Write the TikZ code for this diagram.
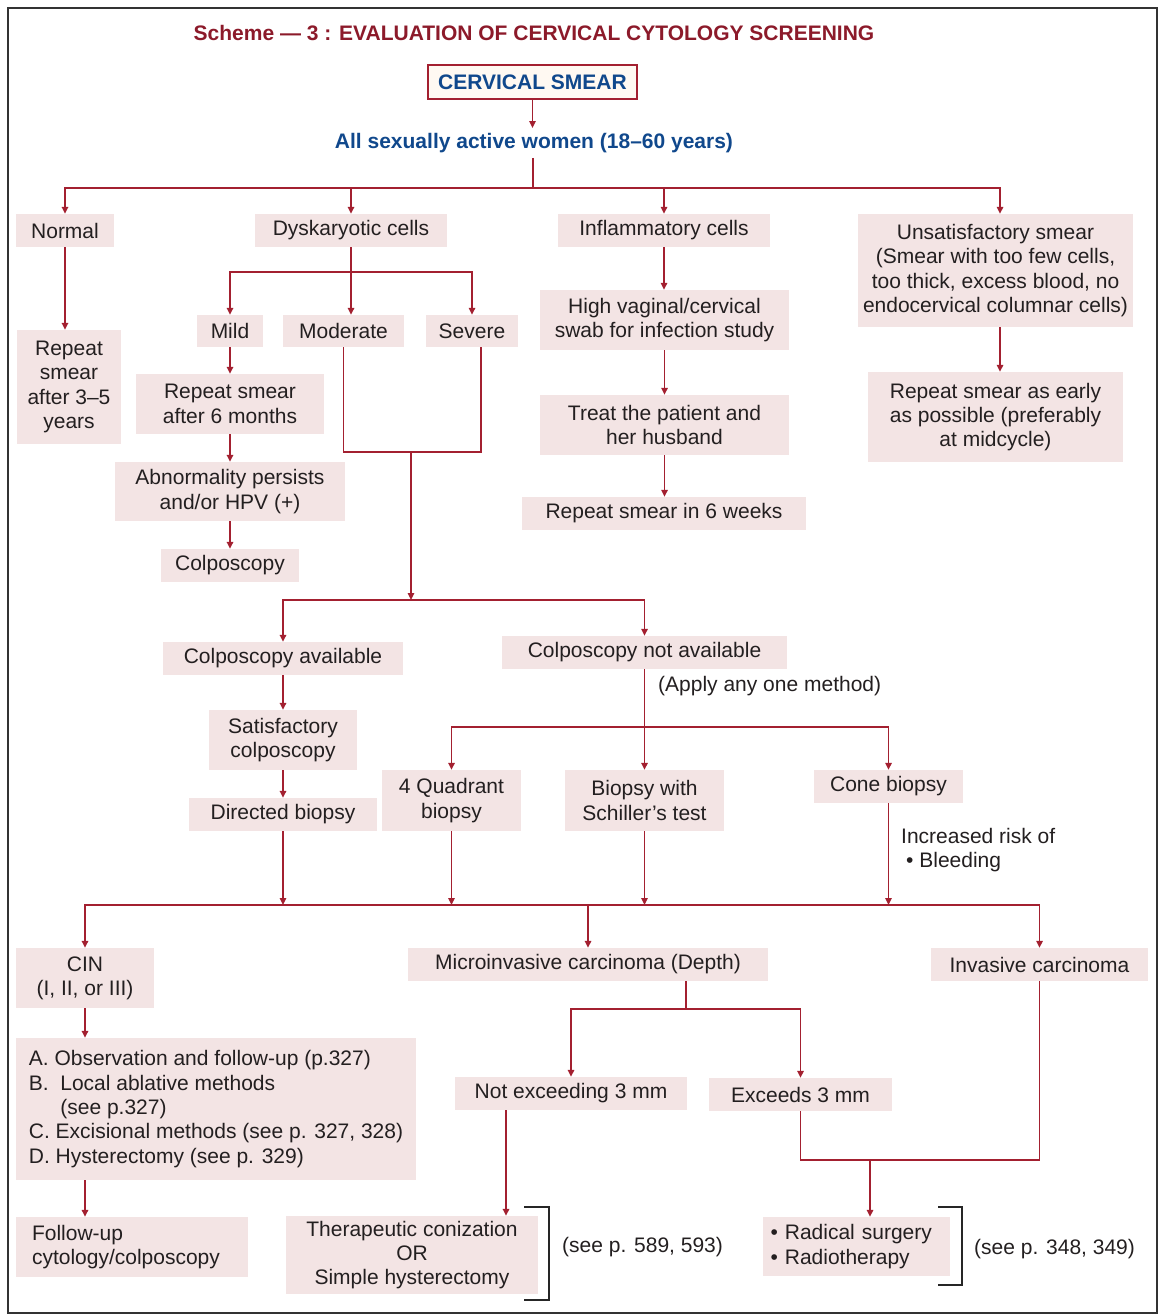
\documentclass[tikz,border=0pt]{standalone}
\usepackage{fontspec}
\setmainfont{Liberation Sans}
\usetikzlibrary{arrows.meta}
\definecolor{lnc}{RGB}{163,32,48}
\definecolor{titlec}{RGB}{140,26,42}
\definecolor{bluec}{RGB}{16,72,140}
\definecolor{boxfill}{RGB}{243,228,228}
\definecolor{cream}{RGB}{255,249,242}
\definecolor{txt}{RGB}{35,31,32}
\begin{document}
\begin{tikzpicture}[x=1pt,y=-1pt,
  bx/.style={fill=boxfill, inner sep=0pt, align=center, text=txt, font=\fontsize{21}{24.3}\selectfont},
  plain/.style={inner sep=0pt, text=txt, font=\fontsize{21}{24.3}\selectfont},
  ln/.style={draw=lnc, line width=1.5pt},
  arr/.style={draw=lnc, line width=1.5pt, -{Triangle[length=7pt,width=6.5pt]}},
  brk/.style={draw=black!85, line width=1.2pt}]
\useasboundingbox (0,0) rectangle (1160,1315);
\draw[line width=2pt, draw=black!80] (8,8) rectangle (1157,1313);

% title
\node[inner sep=0pt, text=titlec, font=\bfseries\fontsize{21}{24}\selectfont] (title) at (534,33) {Scheme — 3 : EVALUATION OF CERVICAL CYTOLOGY SCREENING};
\node[draw=lnc, line width=1.5pt, fill=cream, text=bluec, font=\bfseries\fontsize{21}{24}\selectfont, minimum width=209pt, minimum height=34pt, inner sep=0pt] (smear) at (532.5,82) {CERVICAL SMEAR};
\node[inner xsep=0pt, inner ysep=5pt, text=bluec, font=\bfseries\fontsize{21}{24}\selectfont] (women) at (534,143) {All sexually active women (18–60 years)};

% first row
\node[bx, minimum width=98pt, minimum height=33pt] (normal) at (65,230.5) {Normal};
\node[bx, minimum width=192pt, minimum height=33pt] (dysk) at (351,230.5) {Dyskaryotic cells};
\node[bx, minimum width=212pt, minimum height=33pt] (infl) at (664,230.5) {Inflammatory cells};
\node[bx, minimum width=275pt, minimum height=113pt] (unsat) at (995.5,270.5) {Unsatisfactory smear\\(Smear with too few cells,\\too thick, excess blood, no\\endocervical columnar cells)};

% normal branch
\node[bx, minimum width=104pt, minimum height=114pt] (rep3) at (69,387) {Repeat\\smear\\after 3–5\\years};

% dyskaryotic branch
\node[bx, minimum width=66pt, minimum height=32pt] (mild) at (230,331) {Mild};
\node[bx, minimum width=121pt, minimum height=32pt] (moderate) at (343.5,331) {Moderate};
\node[bx, minimum width=92pt, minimum height=32pt] (severe) at (472,331) {Severe};
\node[bx, minimum width=188pt, minimum height=60pt] (rep6) at (230,404) {Repeat smear\\after 6 months};
\node[bx, minimum width=230pt, minimum height=59pt] (abn) at (230,491.5) {Abnormality persists\\and/or HPV (+)};
\node[bx, minimum width=138pt, minimum height=33pt] (colpo) at (230,565.5) {Colposcopy};

% inflammatory branch
\node[bx, minimum width=249pt, minimum height=60pt] (hvs) at (664.5,320) {High vaginal/cervical\\swab for infection study};
\node[bx, minimum width=249pt, minimum height=60pt] (treat) at (664.5,425) {Treat the patient and\\her husband};
\node[bx, minimum width=284pt, minimum height=33pt] (rep6w) at (664,513.5) {Repeat smear in 6 weeks};

% unsatisfactory branch
\node[bx, minimum width=255pt, minimum height=90pt] (early) at (995.5,417) {Repeat smear as early\\as possible (preferably\\at midcycle)};

% colposcopy availability
\node[bx, minimum width=240pt, minimum height=33pt] (cavail) at (283,658.5) {Colposcopy available};
\node[bx, minimum width=285pt, minimum height=33pt] (cnot) at (644.5,652.5) {Colposcopy not available};
\node[plain, anchor=west] (apply) at (658,686) {(Apply any one method)};
\node[bx, minimum width=148pt, minimum height=60pt] (satis) at (283,740) {Satisfactory\\colposcopy};
\node[bx, minimum width=188pt, minimum height=33pt] (directed) at (283,814.5) {Directed biopsy};
\node[bx, minimum width=139pt, minimum height=61pt] (quad) at (451.5,800.5) {4 Quadrant\\biopsy};
\node[bx, minimum width=159pt, minimum height=61pt] (schiller) at (644.5,800.5) {Biopsy with\\Schiller’s test};
\node[bx, minimum width=149pt, minimum height=33pt] (cone) at (888.5,786.5) {Cone biopsy};
\node[plain, anchor=west, align=left] (risk) at (901,850) {Increased risk of\\\hspace*{5pt}• Bleeding};

% diagnoses
\node[bx, minimum width=138pt, minimum height=60pt] (cin) at (85,978) {CIN\\(I, II, or III)};
\node[bx, minimum width=360pt, minimum height=33pt] (micro) at (588,964.5) {Microinvasive carcinoma (Depth)};
\node[bx, minimum width=217pt, minimum height=33pt] (inv) at (1039.5,964.5) {Invasive carcinoma};
\node[bx, minimum width=232pt, minimum height=33pt] (notex) at (571,1093.5) {Not exceeding 3 mm};
\node[bx, minimum width=183pt, minimum height=33pt] (exc) at (800.5,1094.5) {Exceeds 3 mm};

% treatments
\node[bx, align=left, minimum width=400pt, minimum height=142pt] (tx) at (216,1109) {A. Observation and follow-up (p.327)\\B.\ \ Local ablative methods\\\hphantom{B.\ \ }(see p.327)\\C. Excisional methods (see p. 327, 328)\\D. Hysterectomy (see p. 329)};
\node[bx, align=left, text width=200pt, inner xsep=16pt, minimum height=60pt] (follow) at (132,1247) {Follow-up\\cytology/colposcopy};
\node[bx, minimum width=252pt, minimum height=78pt] (therap) at (412,1255) {Therapeutic conization\\OR\\Simple hysterectomy};
\node[bx, align=left, text width=172pt, inner xsep=7.5pt, minimum height=59pt] (radical) at (856.5,1246.5) {• Radical surgery\\• Radiotherapy};
\node[plain, anchor=west] (see1) at (562,1247) {(see p. 589, 593)};
\node[plain, anchor=west] (see2) at (974,1249) {(see p. 348, 349)};
\draw[brk] (524,1207) -- (549,1207) -- (549,1300) -- (524,1300);
\draw[brk] (938,1207) -- (962,1207) -- (962,1285) -- (938,1285);

% ---- connectors ----
\coordinate (b1) at (533,188);
\draw[arr] (smear.south) -- (smear.south |- women.north);
\draw[ln] (women.south -| b1) -- (b1);
\draw[arr] (b1) -| (normal.north);
\draw[arr] (b1) -| (dysk.north);
\draw[arr] (b1) -| (infl.north);
\draw[arr] (b1) -| ([xshift=4.5pt]unsat.north);

\draw[arr] (normal.south) -- (normal.south |- rep3.north);

\coordinate (b2) at (351,272);
\draw[ln] (dysk.south) -- (b2);
\draw[arr] (b2) -| (mild.north);
\draw[arr] (b2) -| (severe.north);
\draw[arr] (b2) -- (b2 |- moderate.north);
\draw[arr] (mild.south) -- (rep6.north);
\draw[arr] (rep6.south) -- (abn.north);
\draw[arr] (abn.south) -- (colpo.north);

\coordinate (m1) at (481,452);
\coordinate (b3) at (411,600);
\draw[ln] (moderate.south) |- (m1) -- (m1 |- severe.south);
\draw[arr] (b3 |- m1) -- (b3);
\draw[arr] (b3) -| (cavail.north);
\draw[arr] (b3) -| (cnot.north);

\draw[arr] (infl.south) -- (infl.south |- hvs.north);
\draw[arr] (hvs.south) -- (treat.north);
\draw[arr] (treat.south) -- (treat.south |- rep6w.north);

\draw[arr] ([xshift=4.5pt]unsat.south) -- ([xshift=4.5pt]unsat.south |- early.north);

\draw[arr] (cavail.south) -- (satis.north);
\draw[arr] (satis.south) -- (directed.north);

\coordinate (b4) at (644,727);
\draw[arr] (cnot.south) -- (cnot.south |- schiller.north);
\draw[arr] (b4) -| (quad.north);
\draw[arr] (b4) -| (cone.north);

\coordinate (b5) at (588,905);
\draw[arr] (directed.south) -- (directed.south |- b5);
\draw[arr] (quad.south) -- (quad.south |- b5);
\draw[arr] (schiller.south) -- (schiller.south |- b5);
\draw[arr] (cone.south) -- (cone.south |- b5);
\draw[arr] (b5) -| (cin.north);
\draw[arr] (b5) -- (micro.north);
\draw[arr] (b5) -| (inv.north);

\coordinate (b6) at (686,1009);
\draw[ln] (b6 |- micro.south) -- (b6);
\draw[arr] (b6) -| (notex.north);
\draw[arr] (b6) -| (exc.north);

\coordinate (b7) at (870,1160);
\draw[ln] (exc.south) |- (b7) -| (inv.south);
\draw[arr] (b7) -- (b7 |- radical.north);

\coordinate (x506) at (506,0);
\draw[arr] (notex.south -| x506) -- (therap.north -| x506);

\draw[arr] (cin.south) -- (cin.south |- tx.north);
\draw[arr] (cin.south |- tx.south) -- (cin.south |- follow.north);
\end{tikzpicture}
\end{document}
